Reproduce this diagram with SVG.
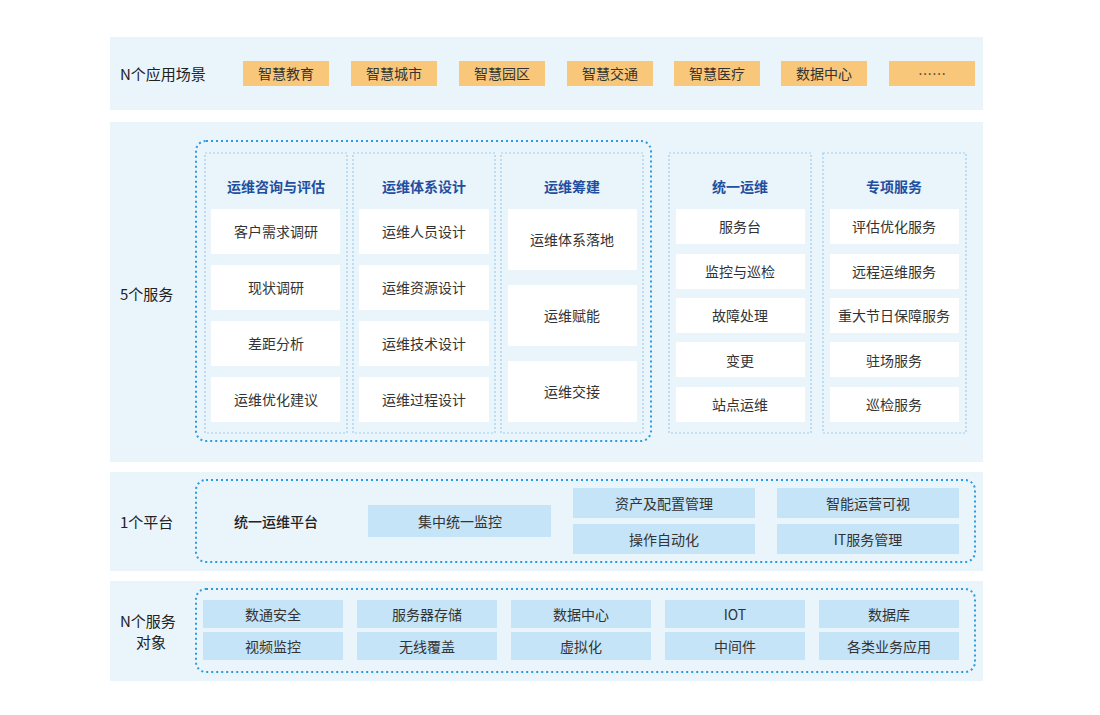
<svg xmlns="http://www.w3.org/2000/svg" width="1100" height="715" viewBox="0 0 1100 715">
<style>
text{font-family:"Noto Sans CJK SC","Noto Sans",sans-serif;font-size:14px;fill:#333;text-anchor:middle;dominant-baseline:central}
.band{fill:#eaf4fb}
.lbl{font-size:15px;text-anchor:start;fill:#222}
.org{fill:#f9c77a}
.dot{fill:none;stroke:#2a9be0;stroke-width:2;stroke-dasharray:2 3}
.col{fill:none;stroke:#9fcdf0;stroke-width:1.2;stroke-dasharray:2 2}
.w{fill:#fff}
.bl{fill:#c5e4f7}
.hd{font-weight:bold;fill:#1e4fa0}
</style>
<rect width="1100" height="715" fill="#fff"/>
<rect class="band" x="110" y="37" width="873" height="73"/>
<rect class="band" x="110" y="122" width="873" height="340"/>
<rect class="band" x="110" y="472" width="873" height="99"/>
<rect class="band" x="110" y="581" width="873" height="100"/>
<text class="lbl" x="120" y="73">N个应用场景</text>
<text class="lbl" x="120" y="293">5个服务</text>
<text class="lbl" x="120" y="521">1个平台</text>
<text class="lbl" x="120" y="620">N个服务</text>
<text class="lbl" x="136" y="641">对象</text>
<g id="scenes">
<rect class="org" x="243" y="61" width="86" height="25"/><text x="286" y="73">智慧教育</text>
<rect class="org" x="351" y="61" width="86" height="25"/><text x="394" y="73">智慧城市</text>
<rect class="org" x="459" y="61" width="86" height="25"/><text x="502" y="73">智慧园区</text>
<rect class="org" x="567" y="61" width="86" height="25"/><text x="610" y="73">智慧交通</text>
<rect class="org" x="674" y="61" width="86" height="25"/><text x="717" y="73">智慧医疗</text>
<rect class="org" x="781" y="61" width="86" height="25"/><text x="824" y="73">数据中心</text>
<rect class="org" x="889" y="61" width="86" height="25"/><text x="932" y="73">……</text>
</g>
<g id="services">
<rect class="dot" x="196" y="141" width="455" height="300" rx="10"/>
<rect class="col" x="205" y="153" width="142" height="280"/>
<rect class="col" x="353" y="153" width="142" height="280"/>
<rect class="col" x="501" y="153" width="142" height="280"/>
<rect class="col" x="669" y="153" width="142" height="280"/>
<rect class="col" x="823" y="153" width="143" height="280"/>
<text class="hd" x="276" y="186">运维咨询与评估</text>
<text class="hd" x="424" y="186">运维体系设计</text>
<text class="hd" x="572" y="186">运维筹建</text>
<text class="hd" x="740" y="186">统一运维</text>
<text class="hd" x="894" y="186">专项服务</text>
<rect class="w" x="211" y="209" width="129" height="45"/><text x="276" y="231">客户需求调研</text>
<rect class="w" x="211" y="265" width="129" height="45"/><text x="276" y="287">现状调研</text>
<rect class="w" x="211" y="321" width="129" height="45"/><text x="276" y="343">差距分析</text>
<rect class="w" x="211" y="377" width="129" height="45"/><text x="276" y="399">运维优化建议</text>
<rect class="w" x="359" y="209" width="130" height="45"/><text x="424" y="231">运维人员设计</text>
<rect class="w" x="359" y="265" width="130" height="45"/><text x="424" y="287">运维资源设计</text>
<rect class="w" x="359" y="321" width="130" height="45"/><text x="424" y="343">运维技术设计</text>
<rect class="w" x="359" y="377" width="130" height="45"/><text x="424" y="399">运维过程设计</text>
<rect class="w" x="508" y="209" width="129" height="61"/><text x="572" y="239">运维体系落地</text>
<rect class="w" x="508" y="285" width="129" height="61"/><text x="572" y="315">运维赋能</text>
<rect class="w" x="508" y="361" width="129" height="61"/><text x="572" y="391">运维交接</text>
<rect class="w" x="676" y="209" width="129" height="35"/><text x="740" y="226">服务台</text>
<rect class="w" x="676" y="254" width="129" height="35"/><text x="740" y="271">监控与巡检</text>
<rect class="w" x="676" y="298" width="129" height="35"/><text x="740" y="315">故障处理</text>
<rect class="w" x="676" y="342" width="129" height="35"/><text x="740" y="360">变更</text>
<rect class="w" x="676" y="387" width="129" height="35"/><text x="740" y="404">站点运维</text>
<rect class="w" x="830" y="209" width="129" height="35"/><text x="894" y="226">评估优化服务</text>
<rect class="w" x="830" y="254" width="129" height="35"/><text x="894" y="271">远程运维服务</text>
<rect class="w" x="830" y="298" width="129" height="35"/><text x="894" y="315">重大节日保障服务</text>
<rect class="w" x="830" y="342" width="129" height="35"/><text x="894" y="360">驻场服务</text>
<rect class="w" x="830" y="387" width="129" height="35"/><text x="894" y="404">巡检服务</text>
</g>
<g id="platform">
<rect class="dot" x="196" y="480" width="779" height="82" rx="10"/>
<text x="276" y="521" style="font-weight:500;fill:#222">统一运维平台</text>
<rect class="bl" x="368" y="505" width="183" height="32"/><text x="460" y="521">集中统一监控</text>
<rect class="bl" x="573" y="488" width="182" height="30"/><text x="664" y="503">资产及配置管理</text>
<rect class="bl" x="573" y="524" width="182" height="30"/><text x="664" y="539">操作自动化</text>
<rect class="bl" x="777" y="488" width="182" height="30"/><text x="868" y="503">智能运营可视</text>
<rect class="bl" x="777" y="524" width="182" height="30"/><text x="868" y="539">IT服务管理</text>
</g>
<g id="objects">
<rect class="dot" x="196" y="589" width="779" height="83" rx="10"/>
<rect class="bl" x="203" y="600" width="140" height="28"/><text x="273" y="614">数通安全</text>
<rect class="bl" x="203" y="632" width="140" height="28"/><text x="273" y="646">视频监控</text>
<rect class="bl" x="357" y="600" width="140" height="28"/><text x="427" y="614">服务器存储</text>
<rect class="bl" x="357" y="632" width="140" height="28"/><text x="427" y="646">无线覆盖</text>
<rect class="bl" x="511" y="600" width="140" height="28"/><text x="581" y="614">数据中心</text>
<rect class="bl" x="511" y="632" width="140" height="28"/><text x="581" y="646">虚拟化</text>
<rect class="bl" x="665" y="600" width="140" height="28"/><text x="735" y="614">IOT</text>
<rect class="bl" x="665" y="632" width="140" height="28"/><text x="735" y="646">中间件</text>
<rect class="bl" x="819" y="600" width="140" height="28"/><text x="889" y="614">数据库</text>
<rect class="bl" x="819" y="632" width="140" height="28"/><text x="889" y="646">各类业务应用</text>
</g>
<g id="connectors"></g>
</svg>
